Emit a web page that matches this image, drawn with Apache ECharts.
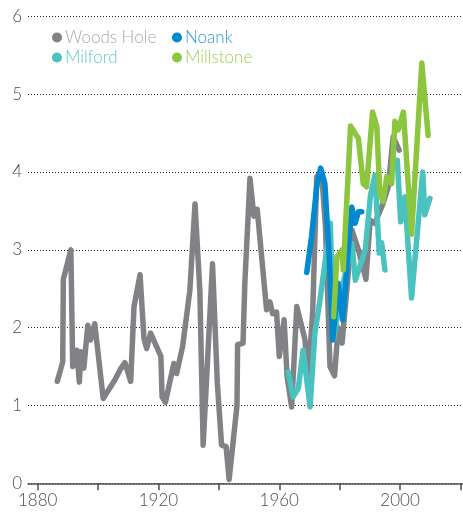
<!DOCTYPE html>
<html>
<head>
<meta charset="utf-8">
<script src="https://cdn.jsdelivr.net/npm/echarts@6/dist/echarts.min.js"></script>
<style>
html,body{margin:0;padding:0;background:#fff;}
#chart{width:463px;height:513px;}
</style>
</head>
<body>
<div id="chart"></div>
<script>
// [year, value] pairs
const woodsHole = [
  [1886.5,1.31],[1888.3,1.56],[1888.5,2.62],[1891.0,3.0],[1891.6,1.5],[1892.9,1.71],[1893.8,1.30],
  [1894.3,1.69],[1895.3,1.48],[1896.6,2.03],[1897.5,1.84],[1898.9,2.05],[1901.7,1.09],[1905.6,1.33],
  [1907.3,1.46],[1908.9,1.55],[1910.8,1.31],[1911.9,2.27],[1913.9,2.68],[1915.2,1.86],[1916.1,1.73],
  [1917.4,1.93],[1920.8,1.63],[1921.2,1.11],[1922.3,1.04],[1925.1,1.54],[1926.0,1.41],[1928.0,1.76],
  [1930.4,2.48],[1932.1,3.59],[1933.7,2.48],[1934.8,0.49],[1937.9,2.82],[1939.5,1.28],[1940.9,0.49],
  [1942.4,0.47],[1943.4,0.05],[1946.0,1.0],[1946.2,1.78],[1948.0,1.80],[1948.6,2.57],[1950.3,3.92],
  [1951.6,3.43],[1952.7,3.52],[1955.8,2.23],[1956.9,2.33],[1957.8,2.18],[1959.1,2.2],[1960.0,1.63],
  [1961.6,2.1],[1962.6,1.37],[1964.1,0.98],[1965.8,2.27],[1968.5,1.85],[1969.6,1.33],[1971.1,2.23],
  [1972.4,3.94],[1974.0,4.0],[1975.3,3.3],[1976.8,1.5],[1978.3,1.38],[1979.5,2.0],[1980.8,1.8],
  [1984.1,3.25],[1986.2,3.0],[1988.7,2.62],[1990.1,3.38],[1991.7,3.34],[1994.4,3.6],[1996.1,3.81],
  [1997.7,4.45],[1999.7,4.28]
];
const noank = [
  [1969.1,2.71],[1970.7,3.17],[1972.4,3.81],[1973.7,4.05],[1975.1,3.85],[1976.6,2.87],[1977.7,1.84],
  [1979.5,2.57],[1981.0,2.1],[1984.0,3.55],[1985.1,3.34],[1986.2,3.49],[1987.3,3.49]
];
const milford = [
  [1963.0,1.43],[1964.6,1.11],[1966.3,1.22],[1967.9,1.71],[1970.2,0.98],[1971.8,1.93],[1973.5,2.36],
  [1976.9,3.34],[1978.0,1.86],[1980.5,2.45],[1984.1,3.08],[1985.2,2.61],[1988.5,3.0],[1990.2,3.7],
  [1991.7,3.96],[1993.1,2.96],[1993.9,3.09],[1995.0,2.74],[1997.0,null],
  [1999.1,4.15],[2000.2,3.36],[2001.6,3.68],[2003.8,2.38],[2007.5,4.0],[2008.2,3.45],[2009.9,3.66]
];
const millstone = [
  [1978.0,2.14],[1979.1,2.91],[1980.8,3.0],[1981.2,2.74],[1983.6,4.59],[1986.2,4.43],[1987.8,3.85],
  [1988.9,3.81],[1990.9,4.77],[1992.3,4.58],[1993.3,3.73],[1994.4,3.62],[1995.6,3.94],[1997.2,3.85],
  [1998.3,4.65],[1999.4,4.54],[2001.1,4.77],[2003.8,3.2],[2007.2,5.40],[2009.3,4.47]
];
const xTicks = [1880,1900,1920,1940,1960,1980,2000,2020];
const xLabels = [1880,1920,1960,2000];
const seriesNames = ['Woods Hole','Noank','Milford','Millstone'];
const lineColors = {'Woods Hole':'#808285','Noank':'#0088d0','Milford':'#4ac3c0','Millstone':'#8cc63f'};
const textColors = {'Woods Hole':'#a7a9ac','Noank':'#2b98d8','Milford':'#62cbc7','Millstone':'#9ccf55'};

const chart = echarts.init(document.getElementById('chart'), null, {renderer:'canvas'});
const FONT = 'Lato';
function legendItem(name){
  return {name:name, icon:'circle', itemStyle:{color:lineColors[name]}, textStyle:{color:textColors[name]}};
}
function mkSeries(name, data){
  return {
    name:name, type:'line', data:data, symbol:'none', connectNulls:false,
    lineStyle:{width:5.5, color:lineColors[name], cap:'round', join:'round'},
    itemStyle:{color:lineColors[name]},
    emphasis:{disabled:true}, animation:false
  };
}
const legendText = {fontFamily:FONT, fontSize:17, fontWeight:300, padding:[0,0,0,-2]};
chart.setOption({
  animation:false,
  grid:{left:28, right:0, top:16.3, bottom:29.7, containLabel:false},
  legend:[
    {data:[legendItem('Woods Hole'), legendItem('Milford')], orient:'vertical', left:47, top:24,
     itemWidth:10, itemHeight:10, itemGap:3, selectedMode:false, textStyle:legendText},
    {data:[legendItem('Noank'), legendItem('Millstone')], orient:'vertical', left:167, top:24,
     itemWidth:10, itemHeight:10, itemGap:3, selectedMode:false, textStyle:legendText}
  ],
  xAxis:{
    type:'value', min:1876.8, max:2020.84,
    axisLine:{show:true, lineStyle:{color:'#4d4d4f', width:1.5}},
    axisTick:{show:true, customValues:xTicks, length:7, lineStyle:{color:'#4d4d4f', width:1.5}},
    axisLabel:{customValues:xLabels, formatter:function(v){return String(v);},
      fontFamily:FONT, fontSize:17, fontWeight:300, color:'#4d4d4f', margin:9},
    splitLine:{show:false}
  },
  yAxis:{
    type:'value', min:0, max:6, interval:1,
    axisLine:{show:false}, axisTick:{show:false},
    axisLabel:{fontFamily:FONT, fontSize:17, fontWeight:300, color:'#4d4d4f', margin:6},
    splitLine:{show:true, lineStyle:{color:'#222', type:[1,2], width:1}}
  },
  series:[
    mkSeries('Woods Hole', woodsHole),
    mkSeries('Milford', milford),
    mkSeries('Noank', noank),
    mkSeries('Millstone', millstone)
  ]
});
</script>
</body>
</html>
